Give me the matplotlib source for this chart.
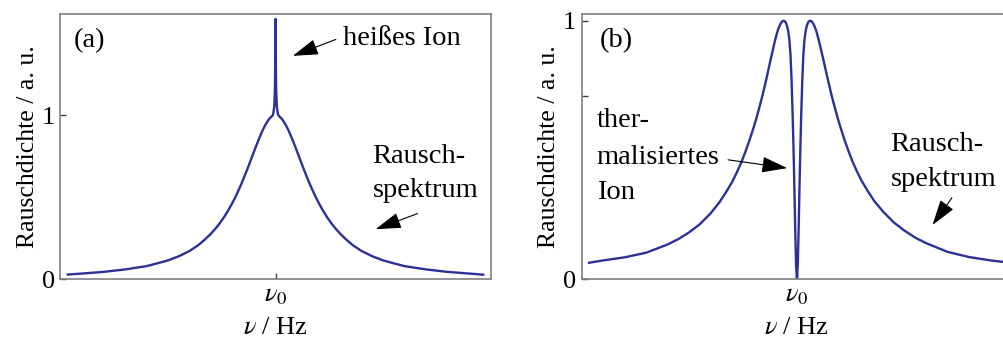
import matplotlib
matplotlib.use('Agg')
import matplotlib.pyplot as plt

plt.rcParams['font.family'] = ['Liberation Serif', 'DejaVu Serif']
plt.rcParams['mathtext.fontset'] = 'stix'

## data (x in units of the half-width of the axis, nu0 = 0)

# (a) noise spectrum with hot ion (narrow spike on top)
x_a = [-0.965, -0.9, -0.8, -0.7, -0.6, -0.55, -0.5, -0.45, -0.4, -0.36, -0.33, -0.3,
       -0.28, -0.26, -0.24, -0.22, -0.2, -0.19, -0.18, -0.17, -0.16, -0.15, -0.14, -0.13,
       -0.12, -0.11, -0.1, -0.09, -0.08, -0.07, -0.06, -0.05, -0.04, -0.03, -0.02, -0.012,
       -0.006, -0.003, -0.0015, 0.0,
       0.0015, 0.003, 0.006, 0.012, 0.02, 0.03, 0.04, 0.05, 0.06, 0.07, 0.08, 0.09,
       0.1, 0.11, 0.12, 0.13, 0.14, 0.15, 0.16, 0.17, 0.18, 0.19, 0.2, 0.22,
       0.24, 0.26, 0.28, 0.3, 0.33, 0.36, 0.4, 0.45, 0.5, 0.55, 0.6, 0.7,
       0.8, 0.9, 0.965]
y_a = [0.029, 0.035, 0.045, 0.060, 0.080, 0.097, 0.115, 0.140, 0.172, 0.207, 0.240, 0.278,
       0.307, 0.340, 0.377, 0.419, 0.466, 0.492, 0.519, 0.548, 0.577, 0.609, 0.641, 0.674,
       0.708, 0.743, 0.778, 0.812, 0.845, 0.877, 0.907, 0.933, 0.956, 0.975, 0.989, 1.000,
       1.050, 1.150, 1.300, 1.585,
       1.300, 1.150, 1.050, 1.000, 0.989, 0.975, 0.956, 0.933, 0.907, 0.877, 0.845, 0.812,
       0.778, 0.743, 0.708, 0.674, 0.641, 0.609, 0.577, 0.548, 0.519, 0.492, 0.466, 0.419,
       0.377, 0.340, 0.307, 0.278, 0.240, 0.207, 0.172, 0.140, 0.115, 0.097, 0.080, 0.060,
       0.045, 0.035, 0.028]

# (b) noise spectrum with thermalised ion (dip at nu0)
x_b = [-0.966, -0.9, -0.8, -0.7, -0.6, -0.55, -0.5, -0.45, -0.4, -0.36, -0.33, -0.3,
       -0.28, -0.26, -0.24, -0.22, -0.2, -0.19, -0.18, -0.17, -0.16, -0.15, -0.14, -0.13,
       -0.12, -0.11, -0.1, -0.09, -0.082, -0.075, -0.068, -0.062, -0.055, -0.05, -0.045, -0.04,
       -0.035, -0.03, -0.025, -0.02, -0.016, -0.012, -0.008, -0.004, 0.0,
       0.004, 0.008, 0.012, 0.016, 0.02, 0.025, 0.03, 0.035, 0.04, 0.045, 0.05, 0.055,
       0.062, 0.068, 0.075, 0.082, 0.09, 0.1, 0.11, 0.12, 0.13, 0.14, 0.15, 0.16,
       0.17, 0.18, 0.19, 0.2, 0.22, 0.24, 0.26, 0.28, 0.3, 0.33, 0.36, 0.4,
       0.45, 0.5, 0.55, 0.6, 0.7, 0.8, 0.9, 0.98]
y_b = [0.064, 0.073, 0.085, 0.103, 0.135, 0.156, 0.182, 0.214, 0.256, 0.298, 0.336, 0.378,
       0.412, 0.449, 0.492, 0.539, 0.590, 0.618, 0.648, 0.679, 0.711, 0.746, 0.782, 0.820,
       0.858, 0.894, 0.930, 0.960, 0.978, 0.990, 0.998, 1.000, 0.997, 0.990, 0.977, 0.958,
       0.925, 0.870, 0.770, 0.640, 0.510, 0.360, 0.195, 0.055, 0.000,
       0.055, 0.195, 0.360, 0.510, 0.640, 0.770, 0.870, 0.925, 0.958, 0.977, 0.990, 0.997,
       1.000, 0.998, 0.990, 0.978, 0.960, 0.930, 0.895, 0.860, 0.823, 0.786, 0.750, 0.715,
       0.683, 0.652, 0.622, 0.594, 0.542, 0.495, 0.452, 0.415, 0.382, 0.340, 0.302, 0.262,
       0.220, 0.188, 0.161, 0.140, 0.106, 0.086, 0.073, 0.065]

line_color = '#2b3196'
spine_color = '#808080'
fs = 19
fs_ann = 20.5

fig = plt.figure(figsize=(10.04, 3.47), dpi=100)
ax_a = fig.add_axes([0.0601, 0.1951, 0.4287, 0.7646])
ax_b = fig.add_axes([0.5794, 0.1951, 0.4287, 0.7646])

for ax in (ax_a, ax_b):
    for s in ax.spines.values():
        s.set_color(spine_color)
        s.set_linewidth(1.2)
    ax.tick_params(direction='in', length=4, width=1, color='#404040',
                   labelsize=fs, pad=4)
    ax.set_xlim(-1, 1)
    ax.set_xticks([0])
    ax.set_xticklabels([r'$\nu_0$'])
    ax.set_xlabel(r'$\nu$ / Hz', fontsize=fs, labelpad=7)
    ax.set_ylabel('Rauschdichte / a. u.', fontsize=18.5, labelpad=2)

arrow = dict(arrowstyle='-|>,head_length=0.8,head_width=0.25', color='black',
             lw=0.8, mutation_scale=20, shrinkA=0, shrinkB=0)

## panel (a)
ax_a.plot(x_a, y_a, color=line_color, lw=1.7, solid_joinstyle='round')
ax_a.set_ylim(0, 1.615)
ax_a.set_yticks([0, 1])
ax_a.set_yticklabels(['0', '1'])
ax_a.text(0.03, 0.9, '(a)', transform=ax_a.transAxes, fontsize=fs_ann, va='center')

ax_a.annotate('', xy=(0.08, 1.36), xytext=(0.28, 1.46), arrowprops=arrow)
ax_a.text(0.315, 1.465, 'heißes Ion', fontsize=fs_ann, va='center')
ax_a.text(0.45, 0.745, 'Rausch-', fontsize=fs_ann, va='center')
ax_a.text(0.45, 0.54, 'spektrum', fontsize=fs_ann, va='center')
ax_a.annotate('', xy=(0.465, 0.305), xytext=(0.66, 0.40), arrowprops=arrow)

## panel (b)
ax_b.plot(x_b, y_b, color=line_color, lw=1.7, solid_joinstyle='round')
ax_b.set_ylim(0, 1.026)
ax_b.set_yticks([0, 0.707, 1])
ax_b.set_yticklabels(['0', '', '1'])
ax_b.text(0.043, 0.9, '(b)', transform=ax_b.transAxes, fontsize=fs_ann, va='center')
ax_b.text(-0.93, 0.615, 'ther-', fontsize=fs_ann, va='center')
ax_b.text(-0.93, 0.472, 'malisiertes', fontsize=fs_ann, va='center')
ax_b.text(-0.93, 0.335, 'Ion', fontsize=fs_ann, va='center')
ax_b.annotate('', xy=(-0.045, 0.43), xytext=(-0.32, 0.462), arrowprops=arrow)
ax_b.text(0.435, 0.52, 'Rausch-', fontsize=fs_ann, va='center')
ax_b.text(0.435, 0.385, 'spektrum', fontsize=fs_ann, va='center')
ax_b.annotate('', xy=(0.63, 0.21), xytext=(0.72, 0.315), arrowprops=arrow)

fig.savefig('out.png', dpi=100)
